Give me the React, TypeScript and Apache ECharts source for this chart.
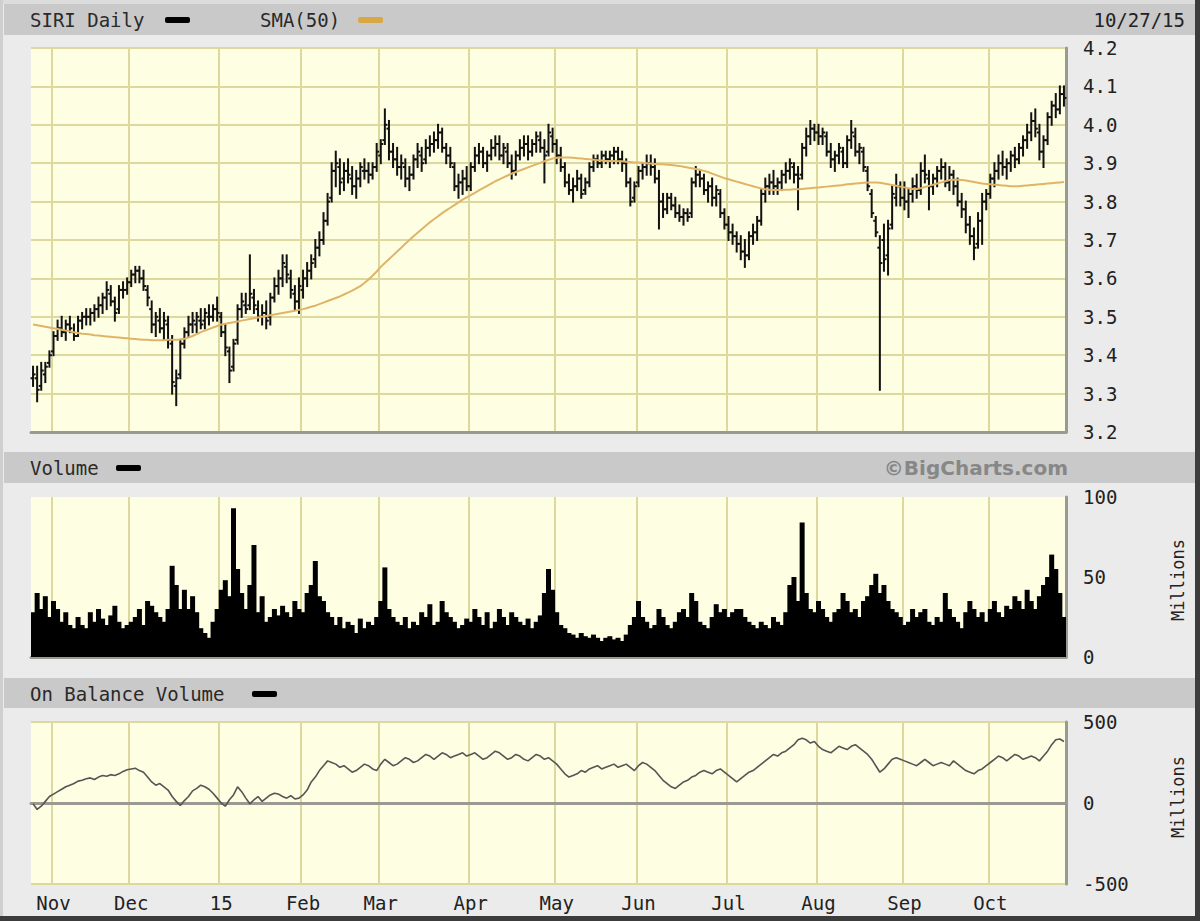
import React, { useEffect, useRef } from "react";
import * as echarts from "echarts";

type Ohlc = [number, number, number, number]; // open, high, low, close

const monthNames = ["", "Nov", "Dec", "15", "Feb", "Mar", "Apr", "May", "Jun", "Jul", "Aug", "Sep", "Oct"];

const priceOct14: Ohlc[] = [[3.34,3.37,3.32,3.35],[3.34,3.37,3.28,3.31],[3.32,3.38,3.31,3.36],[3.35,3.38,3.33,3.37],[3.38,3.41,3.37,3.40]];
const priceNov: Ohlc[] = [[3.41,3.46,3.40,3.45],[3.45,3.49,3.44,3.47],[3.47,3.50,3.45,3.46],[3.46,3.49,3.44,3.48],[3.48,3.50,3.46,3.47],[3.46,3.48,3.44,3.45],[3.45,3.50,3.45,3.49],[3.49,3.51,3.47,3.50],[3.50,3.52,3.48,3.50],[3.50,3.52,3.48,3.51],[3.51,3.53,3.49,3.52],[3.52,3.55,3.50,3.53],[3.53,3.56,3.51,3.55],[3.55,3.59,3.52,3.57],[3.56,3.58,3.53,3.54],[3.54,3.55,3.49,3.51],[3.52,3.58,3.51,3.57],[3.57,3.59,3.55,3.57],[3.57,3.60,3.56,3.59]];
const priceDec: Ohlc[] = [[3.59,3.62,3.58,3.61],[3.61,3.63,3.59,3.62],[3.62,3.63,3.59,3.60],[3.60,3.62,3.57,3.58],[3.57,3.58,3.53,3.55],[3.52,3.54,3.46,3.48],[3.48,3.51,3.45,3.50],[3.49,3.52,3.46,3.47],[3.47,3.51,3.44,3.49],[3.48,3.50,3.42,3.44],[3.43,3.45,3.30,3.33],[3.32,3.36,3.27,3.34],[3.35,3.44,3.34,3.43],[3.43,3.47,3.42,3.46],[3.46,3.50,3.45,3.48],[3.48,3.51,3.46,3.49],[3.48,3.51,3.46,3.50],[3.49,3.52,3.47,3.48],[3.49,3.52,3.47,3.51],[3.50,3.53,3.48,3.50],[3.50,3.53,3.49,3.52],[3.52,3.55,3.49,3.51]];
const priceJan: Ohlc[] = [[3.50,3.51,3.45,3.46],[3.46,3.48,3.40,3.42],[3.41,3.42,3.33,3.36],[3.37,3.44,3.36,3.43],[3.44,3.53,3.43,3.52],[3.52,3.56,3.50,3.54],[3.53,3.56,3.51,3.52],[3.53,3.66,3.52,3.56],[3.55,3.57,3.51,3.53],[3.52,3.54,3.49,3.50],[3.50,3.53,3.48,3.51],[3.51,3.54,3.47,3.49],[3.50,3.56,3.48,3.55],[3.55,3.60,3.54,3.58],[3.58,3.62,3.56,3.60],[3.60,3.66,3.58,3.64],[3.63,3.66,3.59,3.61],[3.60,3.62,3.55,3.57],[3.56,3.58,3.52,3.54],[3.54,3.60,3.51,3.58]];
const priceFeb: Ohlc[] = [[3.57,3.62,3.55,3.60],[3.60,3.64,3.58,3.62],[3.62,3.66,3.60,3.64],[3.65,3.70,3.63,3.68],[3.68,3.72,3.66,3.70],[3.70,3.77,3.69,3.75],[3.75,3.82,3.74,3.80],[3.81,3.90,3.80,3.88],[3.88,3.93,3.84,3.90],[3.89,3.91,3.82,3.85],[3.86,3.90,3.83,3.88],[3.88,3.91,3.85,3.87],[3.86,3.89,3.82,3.84],[3.84,3.88,3.81,3.86],[3.86,3.90,3.84,3.89],[3.88,3.91,3.86,3.88],[3.88,3.90,3.85,3.87],[3.87,3.90,3.86,3.89],[3.89,3.95,3.88,3.93]];
const priceMar: Ohlc[] = [[3.92,3.96,3.90,3.95],[3.96,4.04,3.95,4.00],[3.99,4.01,3.91,3.93],[3.93,3.95,3.89,3.91],[3.91,3.94,3.87,3.89],[3.89,3.92,3.86,3.90],[3.89,3.91,3.84,3.86],[3.86,3.89,3.83,3.87],[3.87,3.92,3.86,3.91],[3.91,3.95,3.89,3.93],[3.92,3.94,3.88,3.90],[3.91,3.96,3.90,3.94],[3.94,3.97,3.92,3.95],[3.95,3.98,3.93,3.96],[3.96,4.00,3.94,3.98],[3.98,3.99,3.93,3.94],[3.94,3.95,3.90,3.92],[3.92,3.94,3.89,3.90],[3.89,3.90,3.83,3.84],[3.84,3.87,3.81,3.85],[3.85,3.88,3.82,3.86],[3.86,3.89,3.83,3.84]];
const priceApr: Ohlc[] = [[3.84,3.90,3.83,3.89],[3.89,3.94,3.88,3.92],[3.92,3.95,3.90,3.93],[3.93,3.94,3.89,3.90],[3.90,3.93,3.88,3.92],[3.92,3.96,3.91,3.94],[3.94,3.97,3.92,3.95],[3.95,3.97,3.91,3.92],[3.92,3.95,3.90,3.94],[3.93,3.95,3.89,3.90],[3.90,3.92,3.86,3.88],[3.88,3.93,3.87,3.92],[3.92,3.96,3.91,3.94],[3.94,3.97,3.92,3.95],[3.95,3.97,3.91,3.93],[3.93,3.96,3.92,3.95],[3.95,3.98,3.93,3.97],[3.96,3.98,3.93,3.94],[3.94,3.96,3.85,3.92],[3.93,4.00,3.92,3.98],[3.97,3.99,3.93,3.95]];
const priceMay: Ohlc[] = [[3.95,3.96,3.90,3.92],[3.92,3.94,3.88,3.89],[3.89,3.90,3.84,3.85],[3.85,3.87,3.82,3.83],[3.83,3.86,3.80,3.84],[3.84,3.88,3.83,3.86],[3.86,3.87,3.81,3.82],[3.83,3.86,3.82,3.85],[3.85,3.90,3.84,3.89],[3.89,3.92,3.88,3.91],[3.91,3.92,3.89,3.90],[3.90,3.93,3.89,3.92],[3.92,3.93,3.90,3.91],[3.91,3.93,3.89,3.92],[3.92,3.94,3.90,3.93],[3.93,3.94,3.90,3.91],[3.91,3.93,3.88,3.90],[3.90,3.91,3.84,3.85],[3.85,3.86,3.79,3.80],[3.81,3.85,3.80,3.84]];
const priceJun: Ohlc[] = [[3.85,3.89,3.84,3.88],[3.88,3.90,3.86,3.89],[3.89,3.92,3.87,3.90],[3.90,3.92,3.87,3.89],[3.89,3.91,3.85,3.86],[3.86,3.88,3.73,3.80],[3.80,3.82,3.76,3.78],[3.78,3.82,3.77,3.81],[3.81,3.82,3.78,3.79],[3.79,3.81,3.76,3.77],[3.77,3.79,3.75,3.76],[3.76,3.78,3.74,3.77],[3.77,3.78,3.75,3.76],[3.77,3.86,3.76,3.85],[3.85,3.89,3.84,3.87],[3.87,3.88,3.84,3.86],[3.86,3.87,3.82,3.83],[3.83,3.85,3.80,3.84],[3.84,3.86,3.79,3.81],[3.81,3.84,3.79,3.83],[3.82,3.83,3.76,3.77],[3.77,3.78,3.73,3.74]];
const priceJul: Ohlc[] = [[3.74,3.76,3.70,3.72],[3.72,3.74,3.69,3.71],[3.71,3.72,3.67,3.69],[3.69,3.71,3.65,3.67],[3.67,3.70,3.63,3.66],[3.66,3.72,3.65,3.71],[3.71,3.74,3.69,3.72],[3.72,3.76,3.70,3.75],[3.75,3.83,3.74,3.82],[3.82,3.86,3.80,3.84],[3.84,3.87,3.82,3.85],[3.85,3.88,3.82,3.84],[3.84,3.86,3.82,3.85],[3.85,3.88,3.83,3.87],[3.87,3.90,3.85,3.88],[3.88,3.91,3.86,3.90],[3.89,3.90,3.85,3.87],[3.87,3.89,3.78,3.86],[3.87,3.95,3.86,3.94],[3.94,3.99,3.92,3.97],[3.97,4.01,3.95,3.99],[3.99,4.00,3.96,3.98]];
const priceAug: Ohlc[] = [[3.98,4.00,3.95,3.97],[3.97,3.99,3.95,3.98],[3.97,3.98,3.92,3.93],[3.93,3.95,3.89,3.91],[3.91,3.93,3.88,3.92],[3.92,3.95,3.90,3.94],[3.93,3.94,3.89,3.90],[3.90,3.97,3.89,3.96],[3.96,4.01,3.94,3.98],[3.97,3.99,3.92,3.93],[3.93,3.95,3.90,3.94],[3.93,3.94,3.88,3.89],[3.88,3.89,3.83,3.84],[3.82,3.83,3.76,3.77],[3.75,3.76,3.71,3.72],[3.68,3.71,3.31,3.64],[3.70,3.74,3.62,3.65],[3.66,3.75,3.61,3.73],[3.74,3.84,3.73,3.82],[3.81,3.87,3.79,3.84],[3.84,3.85,3.79,3.81]];
const priceSep: Ohlc[] = [[3.81,3.85,3.78,3.80],[3.80,3.83,3.76,3.82],[3.82,3.86,3.80,3.84],[3.84,3.87,3.81,3.83],[3.83,3.90,3.82,3.88],[3.88,3.92,3.85,3.87],[3.86,3.88,3.78,3.84],[3.84,3.87,3.82,3.86],[3.86,3.89,3.84,3.88],[3.88,3.91,3.86,3.89],[3.89,3.90,3.84,3.85],[3.85,3.89,3.83,3.87],[3.87,3.88,3.82,3.84],[3.84,3.86,3.79,3.80],[3.80,3.82,3.76,3.78],[3.78,3.80,3.72,3.74],[3.74,3.76,3.69,3.71],[3.71,3.73,3.65,3.68],[3.69,3.77,3.68,3.75],[3.75,3.82,3.69,3.80],[3.80,3.83,3.78,3.82]];
const priceOct: Ohlc[] = [[3.82,3.87,3.81,3.86],[3.86,3.90,3.84,3.88],[3.88,3.92,3.86,3.90],[3.90,3.93,3.87,3.89],[3.89,3.91,3.86,3.90],[3.90,3.93,3.88,3.92],[3.92,3.94,3.89,3.91],[3.91,3.95,3.90,3.94],[3.94,3.97,3.92,3.96],[3.96,4.00,3.94,3.98],[3.98,4.03,3.96,4.01],[4.01,4.04,3.97,3.99],[3.98,4.00,3.91,3.93],[3.93,3.97,3.89,3.96],[3.96,4.03,3.95,4.02],[4.02,4.06,4.00,4.05],[4.05,4.08,4.02,4.04],[4.04,4.10,4.03,4.08],[4.08,4.10,4.05,4.07]];

const smaOct14 = [3.480,3.478,3.476,3.474,3.472];
const smaNov = [3.470,3.468,3.466,3.464,3.462,3.460,3.458,3.456,3.455,3.454,3.452,3.451,3.450,3.449,3.448,3.447,3.446,3.445,3.444];
const smaDec = [3.443,3.442,3.441,3.440,3.440,3.439,3.439,3.439,3.439,3.440,3.440,3.440,3.441,3.443,3.446,3.450,3.455,3.460,3.464,3.468,3.472,3.476];
const smaJan = [3.480,3.482,3.484,3.486,3.488,3.490,3.492,3.494,3.496,3.498,3.500,3.502,3.504,3.506,3.508,3.510,3.512,3.514,3.516,3.518];
const smaFeb = [3.520,3.523,3.526,3.529,3.533,3.537,3.541,3.545,3.549,3.553,3.558,3.563,3.568,3.574,3.580,3.588,3.597,3.607,3.618];
const smaMar = [3.630,3.640,3.650,3.660,3.670,3.680,3.690,3.700,3.710,3.719,3.728,3.737,3.746,3.754,3.762,3.770,3.777,3.784,3.791,3.798,3.805,3.811];
const smaApr = [3.817,3.823,3.829,3.835,3.841,3.847,3.853,3.858,3.863,3.868,3.873,3.877,3.881,3.885,3.889,3.893,3.897,3.901,3.905,3.909,3.912];
const smaMay = [3.914,3.915,3.915,3.915,3.914,3.913,3.912,3.911,3.910,3.909,3.908,3.907,3.906,3.906,3.906,3.905,3.905,3.904,3.903,3.902];
const smaJun = [3.902,3.901,3.900,3.899,3.898,3.897,3.897,3.896,3.895,3.894,3.893,3.891,3.889,3.887,3.885,3.883,3.880,3.877,3.873,3.869,3.865,3.861];
const smaJul = [3.858,3.855,3.852,3.849,3.846,3.843,3.840,3.837,3.834,3.832,3.831,3.830,3.830,3.830,3.831,3.831,3.832,3.832,3.833,3.834,3.835,3.836];
const smaAug = [3.837,3.838,3.839,3.840,3.841,3.842,3.843,3.845,3.846,3.847,3.848,3.849,3.850,3.850,3.850,3.849,3.847,3.845,3.843,3.841,3.839];
const smaSep = [3.837,3.835,3.833,3.833,3.835,3.838,3.841,3.844,3.847,3.850,3.853,3.856,3.857,3.857,3.856,3.855,3.853,3.851,3.849,3.847,3.846];
const smaOct = [3.845,3.844,3.843,3.842,3.841,3.840,3.840,3.840,3.841,3.842,3.843,3.844,3.845,3.846,3.847,3.848,3.849,3.850,3.851];

const volOct14 = [28,40,30,38,25];
const volNov = [35,30,22,28,20,18,25,20,18,28,22,30,24,20,26,32,22,18,20];
const volDec = [22,25,30,20,35,32,28,25,22,30,57,45,30,42,30,38,28,18,15,12,22,30];
const volJan = [42,48,38,93,55,40,30,45,70,28,38,22,25,30,26,32,28,25,35,30];
const volFeb = [28,40,45,60,38,35,28,25,20,25,18,22,20,15,24,18,22,20,25];
const volMar = [35,56,30,25,22,20,25,18,22,20,28,25,33,20,22,35,28,25,22,18,20,24];
const volApr = [22,30,25,20,28,18,22,30,25,20,28,25,22,20,24,18,22,26,40,55,42];
const volMay = [28,20,18,15,14,12,15,13,12,14,12,10,12,13,11,12,10,14,20,25];
const volJun = [35,25,22,18,20,30,25,20,18,22,28,30,25,40,35,22,20,18,25,33,28,30];
const volJul = [25,28,30,30,25,22,20,18,22,20,18,25,22,20,28,45,50,35,84,40,30,28];
const volAug = [35,30,25,22,28,30,40,35,28,30,25,35,38,45,52,40,45,35,30,28,25];
const volSep = [20,22,30,25,28,30,22,20,25,22,40,30,25,22,18,28,35,30,25,28,22];
const volOct = [30,35,28,25,32,30,38,35,30,42,35,30,38,45,50,64,55,40,25];

const obvOct14 = [-5,-40,-20,10,40];
const obvNov = [55,70,85,100,110,120,135,140,150,155,145,160,170,165,175,170,180,195,205];
const obvDec = [210,215,200,190,160,130,110,120,100,80,40,10,-15,15,40,75,90,110,100,85,60,30];
const obvJan = [0,-20,20,50,100,70,30,-5,20,40,10,30,50,60,55,40,30,45,25,30];
const obvFeb = [50,80,130,160,200,230,260,250,240,220,230,210,190,200,220,240,230,210,200];
const obvMar = [240,270,250,230,240,260,280,270,250,260,280,300,290,270,290,310,300,280,290,300,310,290];
const obvApr = [300,310,290,270,280,300,320,310,290,270,280,300,290,270,260,280,300,290,270,280,260];
const obvMay = [240,210,180,160,170,180,200,190,210,220,230,210,220,230,240,220,230,240,220,200];
const obvJun = [230,250,240,220,200,170,140,120,100,90,110,130,140,160,170,190,200,190,180,200,210,190];
const obvJul = [170,150,130,150,170,190,200,220,240,260,280,300,290,310,320,340,360,390,400,390,370,380];
const obvAug = [350,330,320,310,330,350,340,330,350,360,340,320,300,270,230,190,210,240,270,280,270];
const obvSep = [260,250,240,230,250,270,250,230,240,250,240,230,260,240,220,200,190,180,200,210,230];
const obvOct = [250,270,290,280,260,280,300,290,270,280,290,280,260,290,320,360,390,395,380];

const priceMonths = [priceOct14, priceNov, priceDec, priceJan, priceFeb, priceMar, priceApr, priceMay, priceJun, priceJul, priceAug, priceSep, priceOct];
const smaMonths = [smaOct14, smaNov, smaDec, smaJan, smaFeb, smaMar, smaApr, smaMay, smaJun, smaJul, smaAug, smaSep, smaOct];
const volMonths = [volOct14, volNov, volDec, volJan, volFeb, volMar, volApr, volMay, volJun, volJul, volAug, volSep, volOct];
const obvMonths = [obvOct14, obvNov, obvDec, obvJan, obvFeb, obvMar, obvApr, obvMay, obvJun, obvJul, obvAug, obvSep, obvOct];

const ohlc: Ohlc[] = priceMonths.flat() as Ohlc[];
const sma = smaMonths.flat();
const volume = volMonths.flat();
const obv = obvMonths.flat();

const monthStartLabel: Record<number, string> = {};
{
  let idx = 0;
  priceMonths.forEach((m, k) => {
    if (k > 0) monthStartLabel[idx] = monthNames[k];
    idx += m.length;
  });
}
const days = ohlc.map((_, i) => "d" + i);

const MONO = "'DejaVu Sans Mono', monospace";
const TXT = "#222";
const GRIDLINE = "#dcd89e";
const PLOT_BG = "#fefee2";
const EDGE = "#9a9a92";

const GL = 31;
const GW = 1035;

export default function App() {
  const ref = useRef<HTMLDivElement>(null);
  useEffect(() => {
    if (!ref.current) return;
    const chart = echarts.init(ref.current, undefined, { renderer: "svg" });
    const isStart = (i: number) => monthStartLabel[i] !== undefined;
    const mkX = (gridIndex: number, showLabels: boolean) => ({
      type: "category",
      gridIndex,
      data: days,
      boundaryGap: true,
      axisTick: { show: false },
      axisLine: { show: true, lineStyle: { color: EDGE, width: 3 } },
      splitLine: { show: true, interval: (i: number) => isStart(i), lineStyle: { color: GRIDLINE, width: 2 } },
      axisLabel: {
        show: showLabels,
        interval: (i: number) => isStart(i),
        formatter: (_v: string, i: number) => monthStartLabel[i] ?? "",
        color: TXT,
        fontFamily: MONO,
        fontSize: 19,
        margin: 9,
      },
    });
    const yLabel = { color: TXT, fontFamily: MONO, fontSize: 19, margin: 17 };
    const option: any = {
      animation: false,
      backgroundColor: "#ebebeb",
      grid: [
        { left: GL, width: GW, top: 48, height: 384, show: true, backgroundColor: PLOT_BG, borderWidth: 0 },
        { left: GL, width: GW, top: 497, height: 160, show: true, backgroundColor: PLOT_BG, borderWidth: 0 },
        { left: GL, width: GW, top: 722, height: 162, show: true, backgroundColor: PLOT_BG, borderWidth: 0 },
      ],
      xAxis: [mkX(0, false), mkX(1, false), mkX(2, true)],
      yAxis: [
        {
          type: "value", gridIndex: 0, position: "right", min: 3.2, max: 4.2, interval: 0.1,
          axisLine: { show: true, lineStyle: { color: EDGE, width: 3 } },
          axisTick: { show: false },
          splitLine: { show: true, lineStyle: { color: GRIDLINE, width: 2 } },
          axisLabel: { ...yLabel, formatter: (v: number) => v.toFixed(1) },
        },
        {
          type: "value", gridIndex: 1, position: "right", min: 0, max: 100, interval: 50,
          axisLine: { show: true, lineStyle: { color: EDGE, width: 3 } },
          axisTick: { show: false },
          splitLine: { show: false },
          axisLabel: { ...yLabel },
        },
        {
          type: "value", gridIndex: 2, position: "right", min: -500, max: 500, interval: 500,
          axisLine: { show: true, lineStyle: { color: EDGE, width: 3 } },
          axisTick: { show: false },
          splitLine: { show: true, lineStyle: { color: GRIDLINE, width: 2 } },
          axisLabel: { ...yLabel },
        },
      ],
      series: [
        {
          type: "custom",
          name: "SIRI Daily",
          xAxisIndex: 0,
          yAxisIndex: 0,
          data: ohlc.map((d, i) => [i, d[0], d[1], d[2], d[3]]),
          encode: { x: 0, y: [1, 2, 3, 4] },
          z: 3,
          renderItem: (_p: any, api: any) => {
            const i = api.value(0);
            const pO = api.coord([i, api.value(1)]);
            const pH = api.coord([i, api.value(2)]);
            const pL = api.coord([i, api.value(3)]);
            const pC = api.coord([i, api.value(4)]);
            const st = { stroke: "#111", lineWidth: 2 };
            const tk = { stroke: "#111", lineWidth: 2 };
            return {
              type: "group",
              children: [
                { type: "line", shape: { x1: pH[0], y1: pH[1] - 1, x2: pL[0], y2: pL[1] + 1 }, style: st },
                { type: "line", shape: { x1: pO[0] - 2.5, y1: pO[1], x2: pO[0], y2: pO[1] }, style: tk },
                { type: "line", shape: { x1: pC[0], y1: pC[1], x2: pC[0] + 2.5, y2: pC[1] }, style: tk },
              ],
            };
          },
        },
        {
          type: "line",
          name: "SMA(50)",
          xAxisIndex: 0,
          yAxisIndex: 0,
          data: sma,
          showSymbol: false,
          symbol: "none",
          z: 4,
          lineStyle: { color: "#e0b468", width: 2 },
        },
        {
          type: "bar",
          name: "Volume",
          xAxisIndex: 1,
          yAxisIndex: 1,
          data: volume,
          barWidth: 5,
          barGap: "-100%",
          itemStyle: { color: "#000" },
        },
        {
          type: "line",
          name: "On Balance Volume",
          xAxisIndex: 2,
          yAxisIndex: 2,
          data: obv,
          showSymbol: false,
          symbol: "none",
          lineStyle: { color: "#555", width: 1.6 },
        },
      ],
      graphic: [
        { type: "rect", shape: { x: 0, y: 0, width: 1200, height: 4 }, style: { fill: "#dcdcdc" }, silent: true },
        { type: "rect", shape: { x: 0, y: 0, width: 3, height: 921 }, style: { fill: "#cfcfcf" }, silent: true },
        { type: "rect", shape: { x: 1195, y: 0, width: 5, height: 921 }, style: { fill: "#3c3c3c" }, silent: true },
        { type: "rect", shape: { x: 0, y: 916, width: 1200, height: 5 }, style: { fill: "#3c3c3c" }, silent: true },
        { type: "rect", shape: { x: 4, y: 4, width: 1191, height: 31 }, style: { fill: "#c9c9c9" }, silent: true },
        { type: "rect", shape: { x: 4, y: 452, width: 1191, height: 31 }, style: { fill: "#c9c9c9" }, silent: true },
        { type: "rect", shape: { x: 4, y: 678, width: 1191, height: 30 }, style: { fill: "#c9c9c9" }, silent: true },
        { type: "text", x: 30, y: 20, style: { text: "SIRI Daily", fill: "#2a2a2a", font: `19px ${MONO}`, verticalAlign: "middle" } },
        { type: "rect", shape: { x: 165, y: 17, width: 25, height: 6, r: 2 }, style: { fill: "#000" } },
        { type: "text", x: 260, y: 20, style: { text: "SMA(50)", fill: "#2a2a2a", font: `19px ${MONO}`, verticalAlign: "middle" } },
        { type: "rect", shape: { x: 358, y: 17, width: 25, height: 6, r: 2 }, style: { fill: "#d9a743" } },
        { type: "text", x: 1185, y: 20, style: { text: "10/27/15", fill: "#222", font: `19px ${MONO}`, align: "right", verticalAlign: "middle" } },
        { type: "text", x: 30, y: 468, style: { text: "Volume", fill: "#2a2a2a", font: `19px ${MONO}`, verticalAlign: "middle" } },
        { type: "rect", shape: { x: 116, y: 465, width: 25, height: 6, r: 2 }, style: { fill: "#000" } },
        { type: "text", x: 1068, y: 468, style: { text: "©BigCharts.com", fill: "#878787", font: `bold 20px 'DejaVu Sans', sans-serif`, align: "right", verticalAlign: "middle" } },
        { type: "text", x: 30, y: 694, style: { text: "On Balance Volume", fill: "#2a2a2a", font: `19px ${MONO}`, verticalAlign: "middle" } },
        { type: "rect", shape: { x: 252, y: 691, width: 25, height: 6, r: 2 }, style: { fill: "#000" } },
        { type: "text", x: 1178, y: 580, rotation: Math.PI / 2, style: { text: "Millions", fill: "#222", font: `17px ${MONO}`, align: "center", verticalAlign: "middle" } },
        { type: "text", x: 1178, y: 797, rotation: Math.PI / 2, style: { text: "Millions", fill: "#222", font: `17px ${MONO}`, align: "center", verticalAlign: "middle" } },
      ],
    };
    chart.setOption(option);
    return () => chart.dispose();
  }, []);
  return (
    <div
      ref={ref}
      style={{ position: "fixed", left: 0, top: 0, width: 1200, height: 921, background: "#ebebeb" }}
    />
  );
}
